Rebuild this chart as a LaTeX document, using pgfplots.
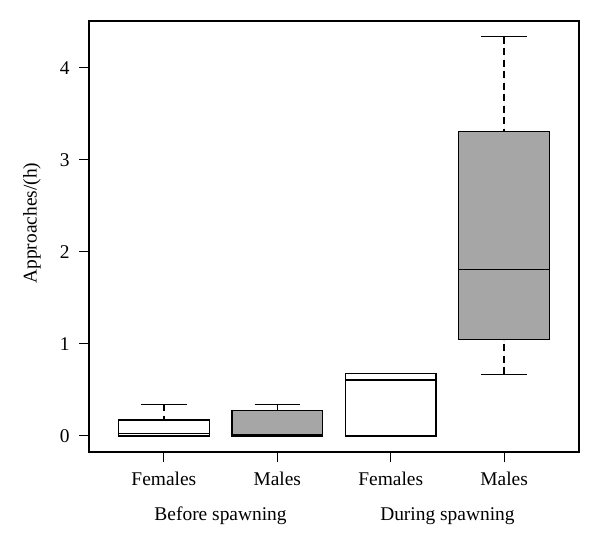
\documentclass[border=0pt]{standalone}
\usepackage{fontspec}
\setmainfont{Liberation Serif}
\usepackage{pgfplots}
\pgfplotsset{compat=1.18}
\usepgfplotslibrary{statistics}
\definecolor{boxgray}{HTML}{A6A6A6}
\begin{document}
\begin{tikzpicture}
\begin{axis}[
  scale only axis,
  width=490bp, height=431bp,
  xmin=0.34, xmax=4.66,
  ymin=-0.174, ymax=4.51,
  axis line style={line width=1.2bp},
  xtick={1,2,3,4},
  xticklabels={Females,Males,Females,Males},
  ytick={0,1,2,3,4},
  tick align=outside,
  tick pos=left,
  major tick length=10bp,
  tick style={line width=1bp, black},
  /pgf/number format/assume math mode=true,
  ticklabel style={font=\fontsize{19.5}{22}\selectfont},
  xticklabel style={yshift=-6bp},
  yticklabel style={xshift=-6bp},
  ylabel={Approaches/(h)},
  every axis y label/.style={at={(rel axis cs:0,0.531)}, xshift=-57bp, rotate=90, anchor=center, font=\fontsize{19.5}{22}\selectfont},
  boxplot/draw direction=y,
  boxplot/box extend=0.8,
  boxplot/whisker extend=0.4,
  boxplot/draw/lower whisker/.code={%
    \draw[dash pattern=on 7bp off 4.5bp] (boxplot cs:\pgfplotsboxplotvalue{lower whisker}) -- (boxplot cs:\pgfplotsboxplotvalue{lower quartile});
    \draw (boxplot whisker cs:\pgfplotsboxplotvalue{lower whisker},0) -- (boxplot whisker cs:\pgfplotsboxplotvalue{lower whisker},1);
  },
  boxplot/draw/upper whisker/.code={%
    \draw[dash pattern=on 7bp off 4.5bp] (boxplot cs:\pgfplotsboxplotvalue{upper whisker}) -- (boxplot cs:\pgfplotsboxplotvalue{upper quartile});
    \draw (boxplot whisker cs:\pgfplotsboxplotvalue{upper whisker},0) -- (boxplot whisker cs:\pgfplotsboxplotvalue{upper whisker},1);
  },
  clip=false,
]
\addplot[draw=black, fill=white, line width=1.3bp,
  boxplot prepared={draw position=1, lower whisker=0, lower quartile=0, median=0.025, upper quartile=0.174, upper whisker=0.345}] coordinates {};
\addplot[draw=black, fill=boxgray, line width=1.3bp,
  boxplot prepared={draw position=2, lower whisker=0, lower quartile=0, median=0.01, upper quartile=0.276, upper whisker=0.34}] coordinates {};
\addplot[draw=black, fill=white, line width=1.3bp,
  boxplot prepared={draw position=3, lower whisker=0, lower quartile=0, median=0.61, upper quartile=0.68, upper whisker=0.68}] coordinates {};
\addplot[draw=black, fill=boxgray, line width=1.3bp,
  boxplot prepared={draw position=4, lower whisker=0.67, lower quartile=1.045, median=1.81, upper quartile=3.31, upper whisker=4.34}] coordinates {};
\node[anchor=base, font=\fontsize{19.5}{22}\selectfont] at ([yshift=-68bp]axis cs:1.5,-0.174) {Before spawning};
\node[anchor=base, font=\fontsize{19.5}{22}\selectfont] at ([yshift=-68bp]axis cs:3.5,-0.174) {During spawning};
\end{axis}
\path ([xshift=-89bp,yshift=-91bp]current axis.south west) rectangle ([xshift=21bp,yshift=21bp]current axis.north east);
\end{tikzpicture}
\end{document}
